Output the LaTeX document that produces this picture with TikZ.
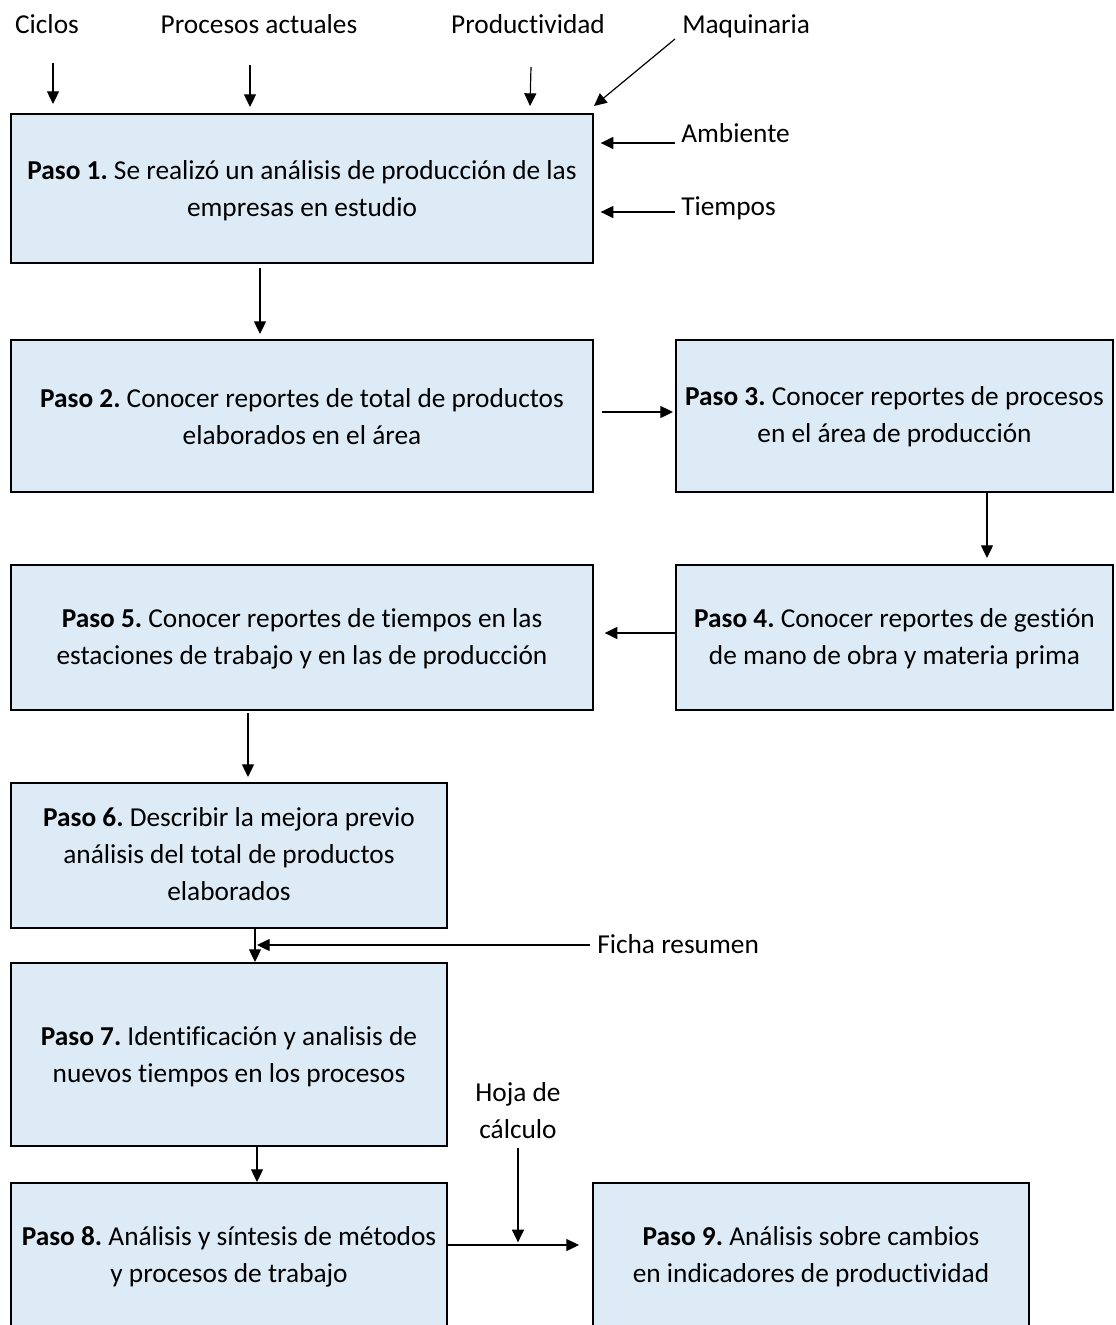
\documentclass[tikz,border=0pt]{standalone}
\usepackage{fontspec}
\setmainfont{Carlito}[Ligatures=NoCommon]
\usetikzlibrary{arrows.meta,fit,calc}
\definecolor{boxblue}{RGB}{221,235,247}
\newcommand\stepfont{\fontsize{20.5}{27.75}\selectfont}
\frenchspacing
\tikzset{
  box/.style={draw=black, line width=1.5pt, fill=boxblue, inner sep=0pt},
  boxtext/.style={font=\stepfont, inner sep=0pt, align=center},
  conn/.style={line width=0.9pt, -{Triangle[length=9.5pt,width=9pt]}},
  lbl/.style={font=\stepfont, inner sep=0pt, align=center}
}
\begin{document}
\begin{tikzpicture}[x=0.75pt,y=-0.75pt]
\useasboundingbox (0,0) rectangle (1115,1325);
% boxes
\node[box, fit={(11,114) (593,263)}] (b1) {};
\node[box, fit={(11,340) (593,492)}] (b2) {};
\node[box, fit={(676,340) (1113,492)}] (b3) {};
\node[box, fit={(676,565) (1113,710)}] (b4) {};
\node[box, fit={(11,565) (593,710)}] (b5) {};
\node[box, fit={(11,783) (447,928)}] (b6) {};
\node[box, fit={(11,963) (447,1146)}] (b7) {};
\node[box, fit={(11,1183) (447,1328)}] (b8) {};
\node[box, fit={(593,1183) (1029,1328)}] (b9) {};
% box texts
\node[boxtext] (t1) at ($(b1.center)+(0,2)$) {\textbf{Paso 1.} Se realizó un análisis de producción de las\\empresas en estudio};
\node[boxtext] (t2) at ($(b2.center)+(0,1)$) {\textbf{Paso 2.} Conocer reportes de total de productos\\elaborados en el área};
\node[boxtext] (t3) at ($(b3.center)+(0,1)$) {\textbf{Paso 3.} Conocer reportes de procesos\\en el área de producción};
\node[boxtext] (t4) at ($(b4.center)+(0,1)$) {\textbf{Paso 4.} Conocer reportes de gestión\\de mano de obra y materia prima};
\node[boxtext] (t5) at ($(b5.center)+(0,1)$) {\textbf{Paso 5.} Conocer reportes de tiempos en las\\estaciones de trabajo y en las de producción};
\node[boxtext] (t6) at ($(b6.center)+(0,-1)$) {\textbf{Paso 6.} Describir la mejora previo\\análisis del total de productos\\elaborados};
\node[boxtext] (t7) at ($(b7.center)+(0,2)$) {\textbf{Paso 7.} Identificación y analisis de\\nuevos tiempos en los procesos};
\node[boxtext] (t8) at ($(b8.center)+(0,1)$) {\textbf{Paso 8.} Análisis y síntesis de métodos\\y procesos de trabajo};
\node[boxtext] (t9) at ($(b9.center)+(0,1)$) {\textbf{Paso 9.} Análisis sobre cambios\\en indicadores de productividad};
% labels
\node[lbl, anchor=mid] (ciclos) at (47,30) {Ciclos};
\node[lbl, anchor=mid] (procesos) at (259,30) {Procesos actuales};
\node[lbl, anchor=mid] (productividad) at (528,30) {Productividad};
\node[lbl, anchor=mid west] (maquinaria) at (682,30) {Maquinaria};
\node[lbl, anchor=mid west] (ambiente) at (681,139) {Ambiente};
\node[lbl, anchor=mid west] (tiempos) at (681,212) {Tiempos};
\node[lbl, anchor=mid west] (ficha) at (597,950) {Ficha resumen};
\node[lbl] (hoja) at (518,1111) {Hoja de\\cálculo};
% coordinates
\coordinate (s1) at (53,63);
\coordinate (s2) at (250,65);
\coordinate (s3) at (531,67);
\coordinate (e3) at (530,106);
\coordinate (s4) at (675,39);
\coordinate (e4) at (594,106);
\coordinate (s5) at (675,143);
\coordinate (s6) at (675,212);
\coordinate (x12) at (260,0);
\coordinate (y23) at (0,412);
\coordinate (x34) at (987,0);
\coordinate (y45) at (0,633);
\coordinate (x56) at (248,0);
\coordinate (x67) at (255,0);
\coordinate (sf) at (590,945);
\coordinate (x78) at (257,0);
\coordinate (y89) at (0,1245);
\coordinate (sh) at (518,1148);
% inputs
\draw[conn, shorten >=6.75pt] (s1) -- (s1 |- b1.north);
\draw[conn, shorten >=4.5pt] (s2) -- (s2 |- b1.north);
\draw[conn] (s3) -- (e3);
\draw[conn] (s4) -- (e4);
\draw[conn, shorten >=5pt] (s5) -- (s5 -| b1.east);
\draw[conn, shorten >=5pt] (s6) -- (s6 -| b1.east);
% flow
\draw[conn, shorten <=3pt, shorten >=3.75pt] (b1.south -| x12) -- (b2.north -| x12);
\draw[conn, shorten <=6pt, shorten >=1.5pt] (b2.east |- y23) -- (b3.west |- y23);
\draw[conn, shorten >=4.5pt] (b3.south -| x34) -- (b4.north -| x34);
\draw[conn, shorten >=8pt] (b4.west |- y45) -- (b5.east |- y45);
\draw[conn, shorten <=1.5pt, shorten >=3.75pt] (b5.south -| x56) -- (b6.north -| x56);
\draw[conn] (b6.south -| x67) -- (b7.north -| x67);
\draw[conn, shorten >=1.5pt] (sf) -- (sf -| x67);
\draw[conn] (b7.south -| x78) -- (b8.north -| x78);
\draw[conn, shorten >=9.75pt] (b8.east |- y89) -- (b9.west |- y89);
\draw[conn, shorten >=2pt] (sh) -- (sh |- y89);
\end{tikzpicture}
\end{document}
